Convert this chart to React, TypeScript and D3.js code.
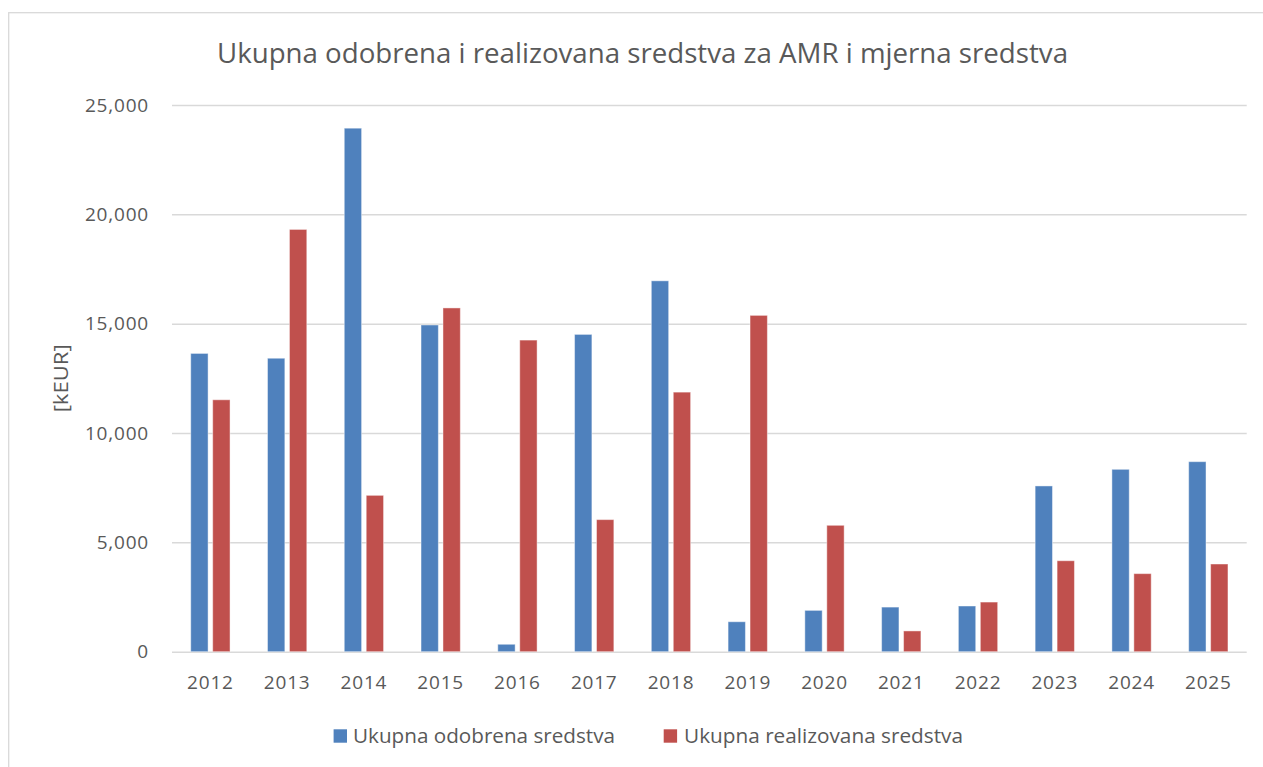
import * as React from "react";
import * as d3 from "d3";

const years = ["2012", "2013", "2014", "2015", "2016", "2017", "2018", "2019", "2020", "2021", "2022", "2023", "2024", "2025"];
const odobrena = [13640, 13420, 23940, 14940, 340, 14510, 16960, 1370, 1890, 2040, 2090, 7580, 8340, 8690];
const realizovana = [11520, 19310, 7150, 15720, 14250, 6040, 11870, 15380, 5780, 950, 2270, 4160, 3570, 4010];
const seriesNames = ["Ukupna odobrena sredstva", "Ukupna realizovana sredstva"];
const yTicks = [0, 5000, 10000, 15000, 20000, 25000];

const colors = ["#4F81BD", "#C0504D"];
const textColor = "#595959";
const font = "'Open Sans', sans-serif";

function drawChart(svgEl) {
  const svg = d3.select(svgEl);
  svg.selectAll("*").remove();

  const left = 172;
  const right = 1246.7;
  const top = 105;
  const bottom = 651.7;

  const x0 = d3.scaleBand().domain(years).range([left, right]).paddingInner(0.488).paddingOuter(0.244);
  const x1 = d3.scaleBand().domain(["a", "b"]).range([0, x0.bandwidth()]).paddingInner(0.21);
  const y = d3.scaleLinear().domain([0, 25000]).range([bottom, top]);

  // frame
  svg.append("rect")
    .attr("x", 8.7).attr("y", 12.7)
    .attr("width", 1300).attr("height", 800)
    .attr("fill", "white")
    .attr("stroke", "#d9d9d9").attr("stroke-width", 1.3);

  // title
  svg.append("text")
    .attr("x", 642.5).attr("y", 63)
    .attr("text-anchor", "middle")
    .attr("font-family", font).attr("font-size", 28)
    .attr("fill", textColor)
    .attr("textLength", 851).attr("lengthAdjust", "spacingAndGlyphs")
    .text("Ukupna odobrena i realizovana sredstva za AMR i mjerna sredstva");

  // y axis with gridlines
  const yAxis = d3.axisLeft(y)
    .tickValues(yTicks)
    .tickSize(left - right)
    .tickPadding(23)
    .tickFormat(d3.format(","));

  const gy = svg.append("g").attr("transform", `translate(${left},0)`).call(yAxis);
  gy.select(".domain").remove();
  gy.selectAll(".tick line").attr("stroke", "#d9d9d9").attr("stroke-width", 1.5);
  gy.selectAll(".tick text")
    .attr("font-family", font).attr("font-size", 19)
    .attr("letter-spacing", 0.8)
    .attr("fill", textColor);

  // x axis labels
  const xAxis = d3.axisBottom(x0).tickSize(0).tickPadding(24);
  const gx = svg.append("g").attr("transform", `translate(0,${bottom})`).call(xAxis);
  gx.select(".domain").remove();
  gx.selectAll(".tick text")
    .attr("font-family", font).attr("font-size", 19)
    .attr("letter-spacing", 0.8)
    .attr("fill", textColor);

  // y title
  svg.append("text")
    .attr("transform", `translate(68,${(top + bottom) / 2}) rotate(-90)`)
    .attr("text-anchor", "middle")
    .attr("font-family", font).attr("font-size", 20)
    .attr("fill", textColor)
    .attr("textLength", 68).attr("lengthAdjust", "spacingAndGlyphs")
    .text("[kEUR]");

  // bars
  const rows = years.map((yr, i) => ({ yr, vals: [odobrena[i], realizovana[i]] }));
  const groups = svg.append("g").selectAll("g").data(rows).enter().append("g")
    .attr("transform", (d) => `translate(${x0(d.yr)},0)`);
  groups.selectAll("rect")
    .data((d) => d.vals.map((v, k) => ({ v, k })))
    .enter().append("rect")
    .attr("x", (d) => x1(d.k === 0 ? "a" : "b"))
    .attr("y", (d) => y(d.v))
    .attr("width", x1.bandwidth())
    .attr("height", (d) => bottom - y(d.v))
    .attr("fill", (d) => colors[d.k])
    .attr("stroke", "rgba(255,255,255,0.45)")
    .attr("stroke-width", 1);

  // legend
  const legendItems = [
    { name: seriesNames[0], color: colors[0], sx: 333.6, tx: 353, len: 262 },
    { name: seriesNames[1], color: colors[1], sx: 663.7, tx: 684, len: 279 },
  ];
  const lg = svg.append("g").selectAll("g").data(legendItems).enter().append("g");
  lg.append("rect")
    .attr("x", (d) => d.sx).attr("y", 729.3)
    .attr("width", 13.4).attr("height", 13.4)
    .attr("fill", (d) => d.color);
  lg.append("text")
    .attr("x", (d) => d.tx).attr("y", 743)
    .attr("font-family", font).attr("font-size", 19.5)
    .attr("fill", textColor)
    .attr("textLength", (d) => d.len).attr("lengthAdjust", "spacingAndGlyphs")
    .text((d) => d.name);
}

export default function App() {
  const ref = React.useRef(null);
  React.useEffect(() => {
    drawChart(ref.current);
  }, []);
  return (
    <svg
      ref={ref}
      width={1263}
      height={767}
      style={{ position: "absolute", left: 0, top: 0, background: "white" }}
    />
  );
}
